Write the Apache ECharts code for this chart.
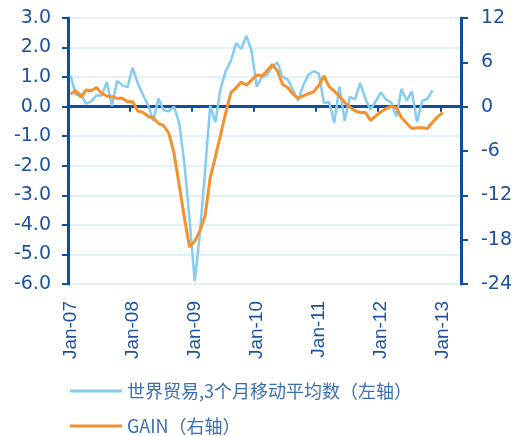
<!DOCTYPE html>
<html>
<head>
    <meta charset="UTF-8">
    <title>世界贸易与GAIN</title>
    <script src="https://cdn.jsdelivr.net/npm/echarts@6.0.0/dist/echarts.min.js"></script>
    <style>
        * { margin: 0; padding: 0; }
        body { background: #fff; }
        #chart { width: 515px; height: 436px; }
    </style>
</head>
<body>
    <div id="chart"></div>
    <script>
        // 月份：Jan-07 ~ Apr-13
        const monthNames = ['Jan', 'Feb', 'Mar', 'Apr', 'May', 'Jun', 'Jul', 'Aug', 'Sep', 'Oct', 'Nov', 'Dec'];
        const months = [];
        for (let y = 7; y <= 13; y++) {
            for (let m = 0; m < 12; m++) {
                if (y === 13 && m > 3) break;
                months.push(monthNames[m] + '-' + (y < 10 ? '0' + y : y));
            }
        }

        // 世界贸易, 3个月移动平均数 (左轴), Jan-07 ~ Nov-12
        const worldTrade = [
            1.05, 0.40, 0.42, 0.10, 0.18, 0.38, 0.38, 0.83, 0.02, 0.88, 0.72, 0.66,
            1.32, 0.78, 0.40, 0.05, -0.48, 0.28, -0.12, -0.16, 0.00, -0.55, -1.90, -3.80,
            -5.90, -4.30, -2.20, 0.03, -0.52, 0.60, 1.20, 1.55, 2.15, 1.95, 2.40, 1.88,
            0.68, 1.00, 1.08, 1.35, 1.50, 1.00, 0.92, 0.57, 0.20, 0.72, 1.08, 1.20,
            1.12, 0.12, 0.16, -0.55, 0.68, -0.48, 0.33, 0.25, 0.80, 0.28, -0.10, 0.18,
            0.48, 0.25, 0.14, -0.33, 0.60, 0.20, 0.52, -0.52, 0.20, 0.26, 0.55
        ];

        // GAIN (右轴), Jan-07 ~ Jan-13
        const gain = [
            1.70, 2.16, 1.30, 2.25, 2.16, 2.60, 1.80, 1.44, 1.35, 1.13, 1.13, 0.68,
            0.68, -0.59, -0.77, -1.30, -1.55, -2.25, -2.55, -3.60, -6.30, -10.60, -15.00, -19.00,
            -18.20, -16.80, -14.80, -9.60, -6.80, -3.80, -0.80, 1.90, 2.55, 3.35, 2.90, 3.60,
            4.30, 4.15, 4.85, 5.70, 4.85, 3.00, 2.60, 1.70, 1.15, 1.45, 1.75, 2.00,
            2.90, 4.15, 2.70, 2.10, 1.40, 0.60, -0.05, -0.55, -0.80, -0.78, -1.85, -1.25,
            -0.72, -0.27, 0.05, -0.15, -1.50, -2.25, -2.95, -2.85, -2.84, -2.95, -2.10, -1.35,
            -0.80
        ];

        const tradeName = '世界贸易,3个月移动平均数（左轴）';
        const gainName = 'GAIN（右轴）';

        const axisBlue = '#0b4ea2';
        const labelBlue = '#1b519f';
        const tradeColor = '#84ccf0';
        const gainColor = '#f7902a';

        const chart = echarts.init(document.getElementById('chart'));

        const legendBase = {
            orient: 'vertical',
            left: 65,
            itemWidth: 52,
            itemHeight: 3,
            icon: 'rect',
            textStyle: {
                fontFamily: 'Noto Sans CJK SC',
                fontSize: 18,
                color: '#3b6fb3'
            }
        };

        const option = {
            animation: false,
            grid: { left: 68, right: 52, top: 18, bottom: 152 },
            legend: [
                Object.assign({}, legendBase, { top: 377, data: [tradeName] }),
                Object.assign({}, legendBase, { top: 412, data: [gainName] })
            ],
            xAxis: [
                {
                    type: 'category',
                    data: months,
                    boundaryGap: true,
                    axisLine: { show: false, onZero: false },
                    axisTick: { show: false },
                    splitLine: { show: false },
                    axisLabel: {
                        interval: 11,
                        rotate: 90,
                        margin: 17,
                        fontFamily: 'Liberation Sans',
                        fontSize: 19,
                        color: labelBlue
                    }
                },
                {
                    type: 'category',
                    data: months,
                    boundaryGap: true,
                    position: 'bottom',
                    axisLine: {
                        onZero: true,
                        onZeroAxisIndex: 0,
                        lineStyle: { color: axisBlue, width: 3 }
                    },
                    axisTick: {
                        show: true,
                        interval: 11,
                        length: 5,
                        lineStyle: { color: axisBlue, width: 2 }
                    },
                    axisLabel: { show: false },
                    splitLine: { show: false }
                }
            ],
            yAxis: [
                {
                    type: 'value',
                    min: -6,
                    max: 3,
                    interval: 1,
                    axisLine: { show: true, lineStyle: { color: axisBlue, width: 3 } },
                    axisTick: { show: true, length: 6, lineStyle: { color: axisBlue, width: 2 } },
                    axisLabel: {
                        margin: 17,
                        fontFamily: 'DejaVu Sans',
                        fontSize: 19,
                        color: labelBlue,
                        formatter: v => v.toFixed(1)
                    },
                    splitLine: { lineStyle: { color: '#d4eef9', width: 1.5 } }
                },
                {
                    type: 'value',
                    min: -24,
                    max: 12,
                    interval: 6,
                    position: 'right',
                    axisLine: { show: true, lineStyle: { color: axisBlue, width: 3 } },
                    axisTick: { show: true, length: 7, lineStyle: { color: axisBlue, width: 2 } },
                    axisLabel: {
                        margin: 20,
                        fontFamily: 'DejaVu Sans',
                        fontSize: 19,
                        color: labelBlue
                    },
                    splitLine: { show: false }
                }
            ],
            series: [
                {
                    name: tradeName,
                    type: 'line',
                    xAxisIndex: 0,
                    yAxisIndex: 0,
                    data: worldTrade,
                    symbol: 'none',
                    itemStyle: { color: tradeColor },
                    lineStyle: { color: tradeColor, width: 2.5 },
                    z: 3
                },
                {
                    name: gainName,
                    type: 'line',
                    xAxisIndex: 0,
                    yAxisIndex: 1,
                    data: gain,
                    symbol: 'none',
                    itemStyle: { color: gainColor },
                    lineStyle: { color: gainColor, width: 3 },
                    z: 4
                }
            ]
        };

        chart.setOption(option);
    </script>
</body>
</html>
